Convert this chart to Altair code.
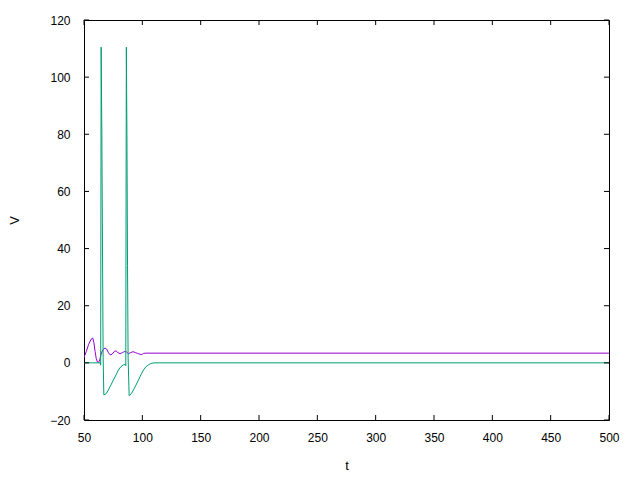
import altair as alt
import pandas as pd

# Green trace (t, V)
green_t = [50, 63.8, 64.3, 64.7, 65.3, 66.0, 66.4, 67.0, 69.0, 70.9, 73.0, 75.2, 77.5, 79.5, 81.5, 83.8,
           85.3, 85.8, 86.3, 86.8, 87.3, 87.8, 88.7, 90.5, 92.4, 94.5, 96.7, 99.0, 101.0, 103.0, 105.3,
           107.5, 110.0, 500]
green_v = [0, 0, -0.8, 110.5, 80, 30, 2, -11.2, -10.8, -9.5, -7.8, -6.0, -4.2, -2.5, -1.4, -0.7,
           -0.6, -1.0, 110.5, 80, 34, 2, -11.5, -10.8, -9.5, -7.8, -6.0, -4.0, -2.5, -1.4, -0.7,
           -0.2, 0, 0]

# Purple trace (t, V)
purple_t = [50, 52, 54, 56, 57.5, 58.5, 59.5, 60.5, 61.5, 62.5, 63.5, 64.5, 66, 68, 69.5, 71, 72.5,
            74, 76, 77.5, 79, 81, 83, 85, 86.5, 88, 90, 92, 94, 96, 98, 99.5, 101, 103, 500]
purple_v = [1.9, 4.0, 6.5, 8.2, 8.7, 7.0, 4.0, 1.5, 0.3, 0.2, 1.0, 2.8, 4.5, 5.2, 4.8, 3.5, 2.8,
            3.0, 4.0, 4.2, 3.6, 3.2, 3.6, 4.0, 3.8, 3.2, 3.6, 3.9, 3.6, 3.3, 3.0, 2.9, 3.3, 3.4, 3.4]

x_ticks = [50, 100, 150, 200, 250, 300, 350, 400, 450, 500]
y_ticks = [-20, 0, 20, 40, 60, 80, 100, 120]

W, H = 525, 400
TICK = 5
FONT = "Liberation Sans"

green_df = pd.DataFrame({"t": green_t, "V": green_v})
purple_df = pd.DataFrame({"t": purple_t, "V": purple_v})
xt_df = pd.DataFrame({"t": x_ticks})
yt_df = pd.DataFrame({"V": y_ticks})

xs = alt.Scale(domain=[50, 500], nice=False, zero=False)
ys = alt.Scale(domain=[-20, 120], nice=False, zero=False)

x_axis = alt.Axis(values=x_ticks, title="t", grid=False, ticks=False, domain=False,
                  labelPadding=12, labelFontSize=12, labelFont=FONT, labelColor="black",
                  titleFont=FONT, titleFontSize=13, titleFontWeight="normal", titleColor="black",
                  titleX=W / 2, titleY=45, titleBaseline="middle", labelFlush=False)
y_axis = alt.Axis(values=y_ticks, title="V", grid=False, ticks=False, domain=False,
                  labelPadding=14, labelFontSize=12, labelFont=FONT, labelColor="black",
                  titleFont=FONT, titleFontSize=13, titleFontWeight="normal", titleColor="black",
                  titleX=-70, titleY=H / 2, titleBaseline="middle", titleAngle=270,
                  labelFlush=False)

purple = alt.Chart(purple_df).mark_line(color="#9400d3", strokeWidth=1, clip=True).encode(
    x=alt.X("t:Q", scale=xs, axis=x_axis),
    y=alt.Y("V:Q", scale=ys, axis=y_axis),
)
green = alt.Chart(green_df).mark_line(color="#009e73", strokeWidth=1, clip=True).encode(
    x=alt.X("t:Q", scale=xs),
    y=alt.Y("V:Q", scale=ys),
)

bottom_ticks = alt.Chart(xt_df).mark_rule(color="black", strokeWidth=1).encode(
    x=alt.X("t:Q", scale=xs), y=alt.value(H), y2=alt.value(H - TICK))
top_ticks = alt.Chart(xt_df).mark_rule(color="black", strokeWidth=1).encode(
    x=alt.X("t:Q", scale=xs), y=alt.value(0), y2=alt.value(TICK))
left_ticks = alt.Chart(yt_df).mark_rule(color="black", strokeWidth=1).encode(
    y=alt.Y("V:Q", scale=ys), x=alt.value(0), x2=alt.value(TICK))
right_ticks = alt.Chart(yt_df).mark_rule(color="black", strokeWidth=1).encode(
    y=alt.Y("V:Q", scale=ys), x=alt.value(W), x2=alt.value(W - TICK))

chart = alt.layer(purple, green, bottom_ticks, top_ticks, left_ticks, right_ticks).properties(
    width=W, height=H,
    autosize=alt.AutoSizeParams(type="none"),
    padding={"left": 76, "top": 12, "right": 20, "bottom": 58},
    background="white",
).configure_view(stroke="black", strokeWidth=1)

chart.save("out.html", embed_options={"renderer": "svg", "actions": False})
